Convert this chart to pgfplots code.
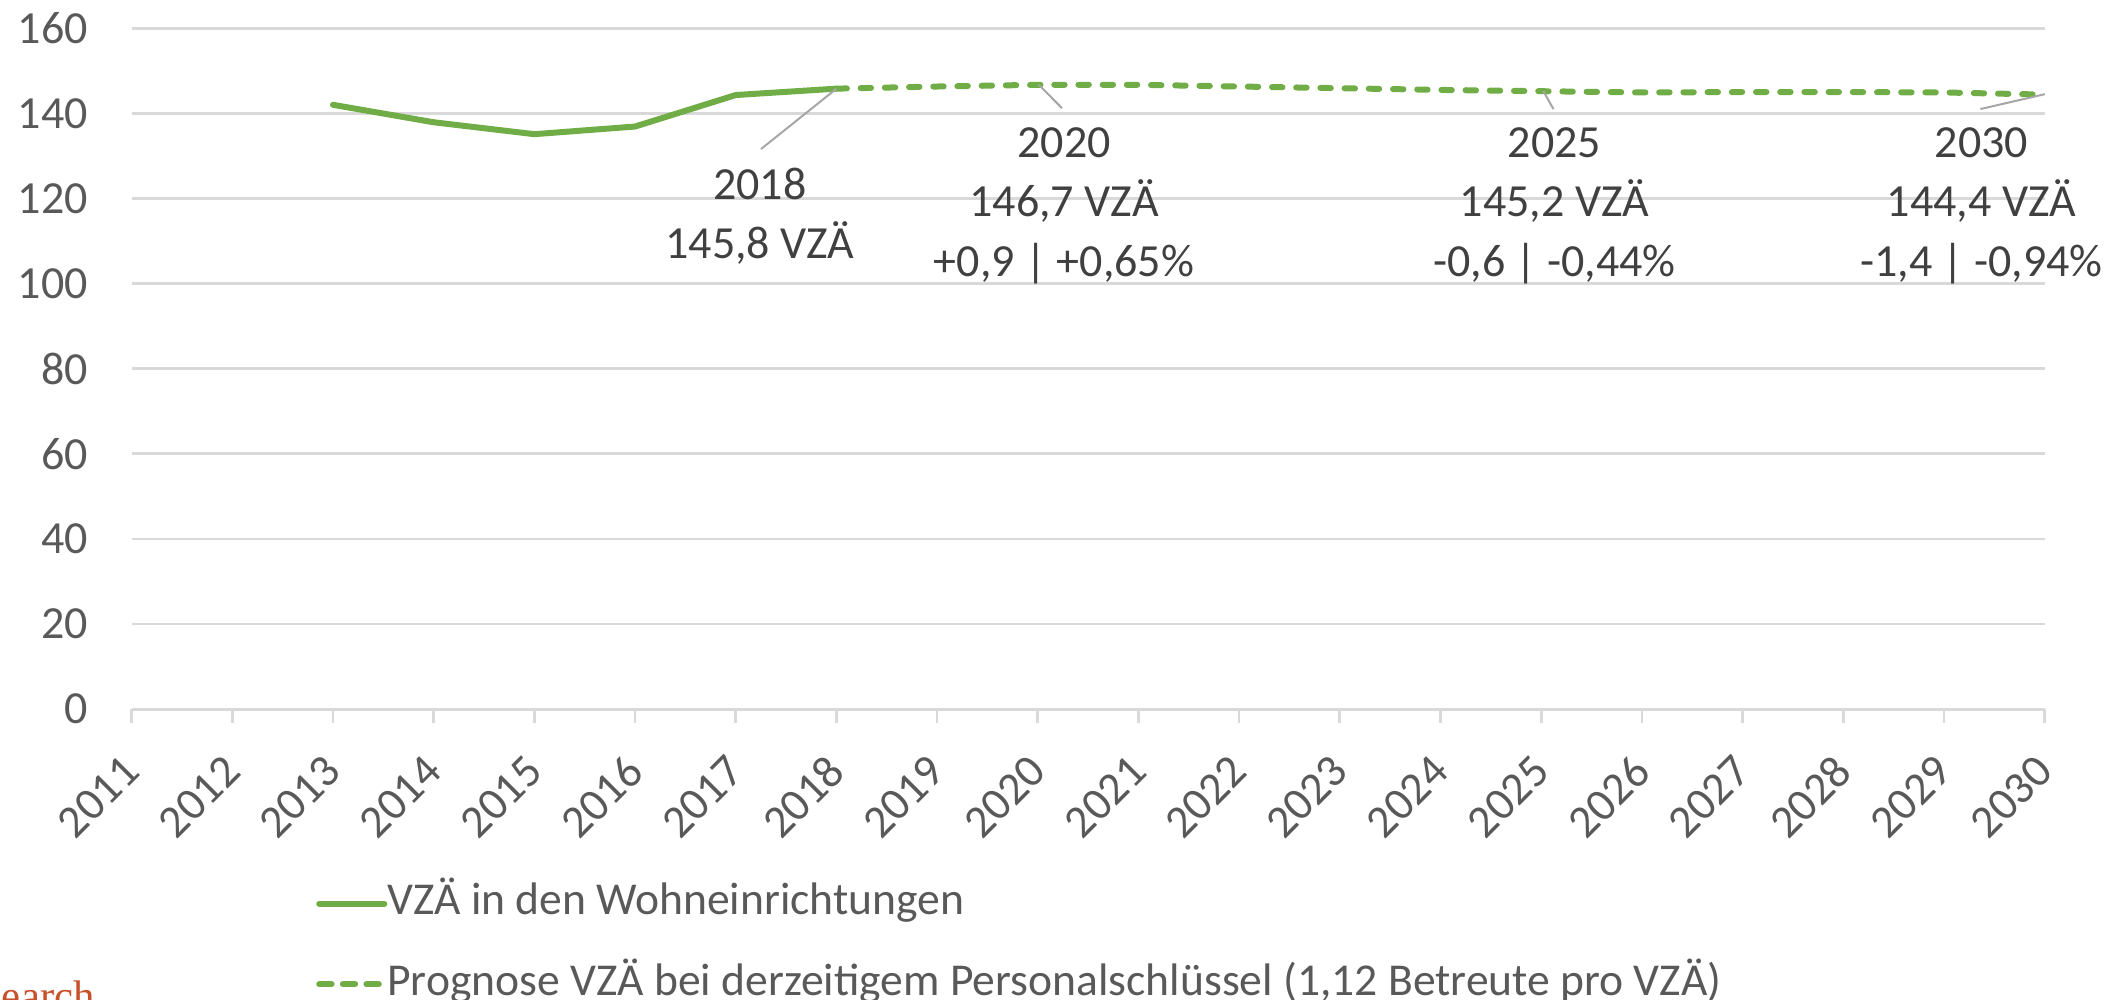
\documentclass[border=0pt]{standalone}
\usepackage{fontspec}
\setmainfont{Carlito}
\newfontfamily\wmfont{Liberation Serif}
\usepackage{pgfplots}
\pgfplotsset{compat=1.18}
\definecolor{vzgreen}{HTML}{70AD47}
\definecolor{gridgray}{HTML}{D9D9D9}
\definecolor{ticktext}{HTML}{595959}
\definecolor{annotext}{HTML}{404040}
\definecolor{leadergray}{HTML}{A6A6A6}
\definecolor{wmred}{HTML}{C8502A}
\tikzset{
  anno/.style={anchor=base, inner sep=0pt, font=\fontsize{11.5}{14}\selectfont, text=annotext},
  lead/.style={leadergray, line width=0.5pt},
}

% VZÄ in den Wohneinrichtungen (Ist)
\pgfplotstableread{
year val
2013 142.0
2014 137.9
2015 135.1
2016 136.9
2017 144.3
2018 145.8
}\istdata

% Prognose bei derzeitigem Personalschlüssel
\pgfplotstableread{
year val
2018 145.8
2019 146.3
2020 146.7
2021 146.7
2022 146.3
2023 145.9
2024 145.5
2025 145.2
2026 144.9
2027 145.0
2028 145.0
2029 144.9
2030 144.4
}\progdata

\begin{document}
\begin{tikzpicture}
\useasboundingbox (0,0) rectangle (531.5pt,249.75pt);
\begin{axis}[
  at={(32.9pt,72.45pt)}, anchor=south west,
  scale only axis, width=478.3pt, height=170.25pt,
  xmin=2011, xmax=2030, ymin=0, ymax=160,
  clip=false,
  axis x line*=bottom, axis y line*=left,
  x axis line style={gridgray, line width=0.67pt, -},
  y axis line style={draw=none},
  xtick={2011,...,2030},
  xticklabels={2011,2012,2013,2014,2015,2016,2017,2018,2019,2020,2021,2022,2023,2024,2025,2026,2027,2028,2029,2030},
  ytick={0,20,...,160},
  ymajorgrids,
  major grid style={gridgray, line width=0.67pt},
  tick align=outside, major tick length=3.5pt,
  xtick style={gridgray, line width=0.67pt},
  ytick style={draw=none},
  /pgf/number format/assume math mode=true,
  tick label style={font=\fontsize{11.5}{14}\selectfont, text=ticktext},
  yticklabel style={inner sep=0pt, anchor=east, xshift=-7.25pt},
  xticklabel style={inner sep=0pt, xshift=0.1pt, yshift=-10pt, rotate=45, anchor=east},
  legend cell align=left,
  legend image code/.code={\draw[#1, line width=1.6pt, line cap=round] (0.8pt,0pt) -- (17pt,0pt);},
  legend style={at={(axis description cs:0.0965,-0.2549)}, anchor=north west,
    draw=none, fill=none, inner sep=0pt, outer sep=0pt,
    row sep=9.6pt, column sep=0pt,
    font=\fontsize{11.4}{13}\selectfont, text=ticktext,
    nodes={inner sep=0pt, text height=8pt, text depth=2.5pt}},
]
\addplot[vzgreen, line width=1.5pt, line join=round, line cap=round, no markers] table[x=year, y=val] {\istdata};
\addlegendentry{VZÄ in den Wohneinrichtungen}
\addplot[vzgreen, line width=1.5pt, line join=round, line cap=round, dash pattern=on 2.6pt off 3.45pt, no markers,
  forget plot] table[x=year, y=val] {\progdata};
\addlegendimage{vzgreen, line width=1.6pt, dash pattern=on 3pt off 2.9pt}
\addlegendentry{Prognose VZÄ bei derzeitigem Personalschlüssel (1,12 Betreute pro VZÄ)}

% leader lines
\draw[lead] (axis cs:2017.25,131.6) -- (axis cs:2018,145.8);
\draw[lead] (axis cs:2020.24,141.2) -- (axis cs:2020.01,146.7);
\draw[lead] (axis cs:2025.12,141.0) -- (axis cs:2025.02,145.2);
\draw[lead] (axis cs:2029.36,141.0) -- (axis cs:2030,144.5);

% data labels
\node[anno] at (axis cs:2017.24,119.7) {2018};
\node[anno] at (axis cs:2017.24,106.0) {145,8 VZÄ};
\node[anno] at (axis cs:2020.26,129.7) {2020};
\node[anno] at (axis cs:2020.26,115.7) {146,7 VZÄ};
\node[anno] at (axis cs:2020.26,101.6) {+0,9 | +0,65\%};
\node[anno] at (axis cs:2025.13,129.7) {2025};
\node[anno] at (axis cs:2025.13,115.7) {145,2 VZÄ};
\node[anno] at (axis cs:2025.13,101.6) {-0,6 | -0,44\%};
\node[anno] at (axis cs:2029.37,129.7) {2030};
\node[anno] at (axis cs:2029.37,115.7) {144,4 VZÄ};
\node[anno] at (axis cs:2029.37,101.6) {-1,4 | -0,94\%};
\end{axis}
\node[anchor=base west, inner sep=0pt, text=wmred, font=\wmfont\fontsize{10.7}{12}\selectfont] at (0.3pt,-2.9pt) {earch};
\end{tikzpicture}
\end{document}
